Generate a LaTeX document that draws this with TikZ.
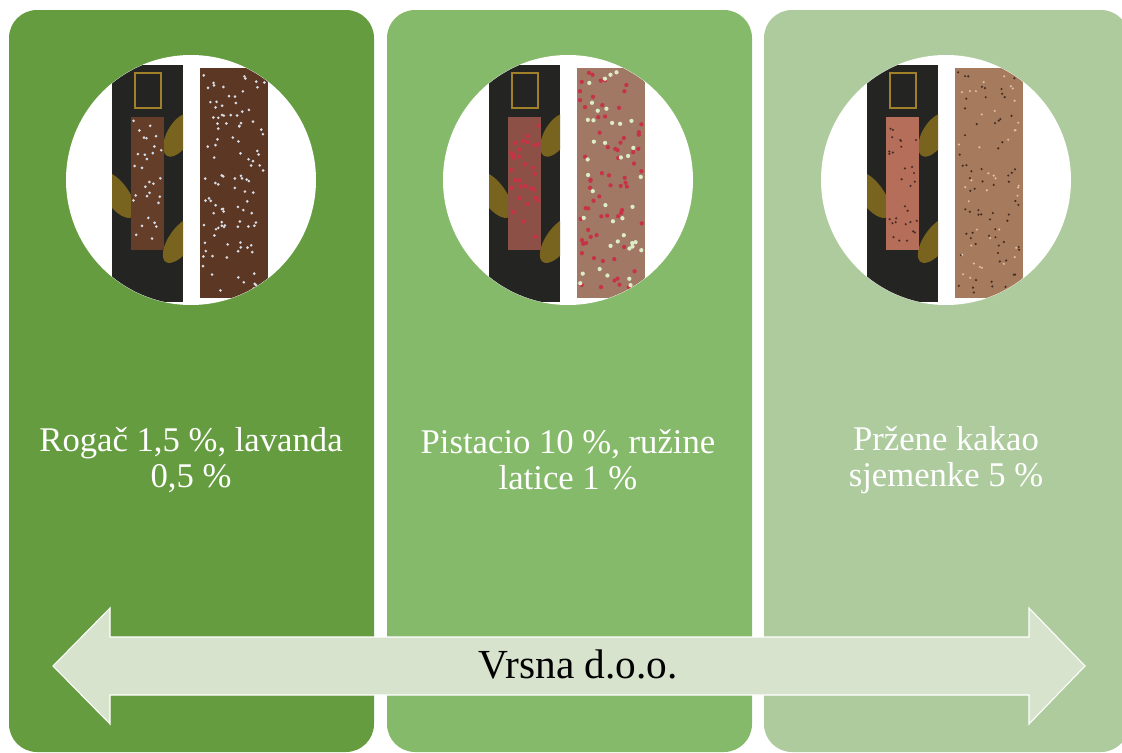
\documentclass[tikz,border=0pt]{standalone}
\usepackage{fontspec}
\setmainfont{Liberation Serif}
\definecolor{pA}{RGB}{101,156,64}
\definecolor{pB}{RGB}{134,186,107}
\definecolor{pC}{RGB}{174,203,158}
\definecolor{arrowc}{RGB}{216,227,206}
\definecolor{boxc}{RGB}{36,36,34}
\definecolor{goldc}{RGB}{160,128,40}
\definecolor{leafc}{RGB}{120,100,30}
\definecolor{chocA}{RGB}{92,56,36}
\definecolor{chocB}{RGB}{160,120,100}
\definecolor{chocC}{RGB}{166,122,92}
\definecolor{winA}{RGB}{100,62,40}
\definecolor{winB}{RGB}{140,80,70}
\definecolor{winC}{RGB}{180,110,90}
\definecolor{speckA}{RGB}{215,220,230}
\definecolor{speckB}{RGB}{200,50,70}
\definecolor{speckBg}{RGB}{220,235,200}
\definecolor{speckC}{RGB}{70,45,35}
\definecolor{speckCl}{RGB}{225,190,160}
\newcommand\chocphoto[7]{%
% #1 circle node, #2 bar colour, #3 window colour, #4 speck colour 1, #5 speck colour 2, #6 seed, #7 speck size
\begin{scope}[shift={(#1.center)}]
  \clip (0,0) circle (93.5pt);
  \fill[boxc] (-79,-115) rectangle (-8,122);
  \begin{scope}
    \clip (-79,-115) rectangle (-8,122);
    \fill[leafc,rotate around={35:(-74,15)}] (-74,15) ellipse (9pt and 20pt);
    \fill[leafc,rotate around={-30:(-12,-45)}] (-12,-45) ellipse (9pt and 18pt);
    \fill[leafc,rotate around={-35:(-10,60)}] (-10,60) ellipse (9pt and 20pt);
  \end{scope}
  \fill[#3] (-60,-63) rectangle (-27,70);
  \draw[goldc,line width=1pt] (-56,-107) rectangle (-30,-72);
  \fill[#2] (9,-112) rectangle (77,118);
  \pgfmathsetseed{#6}
  \foreach \i in {1,...,70}{
    \pgfmathsetmacro\sx{12+62*rnd}
    \pgfmathsetmacro\sy{-108+222*rnd}
    \fill[#4] (\sx,\sy) circle (#7);
  }
  \foreach \i in {1,...,40}{
    \pgfmathsetmacro\sx{12+62*rnd}
    \pgfmathsetmacro\sy{-108+222*rnd}
    \fill[#5] (\sx,\sy) circle (#7);
  }
  \foreach \i in {1,...,30}{
    \pgfmathsetmacro\sx{-58+29*rnd}
    \pgfmathsetmacro\sy{-60+128*rnd}
    \fill[#4] (\sx,\sy) circle (#7);
  }
\end{scope}}
\begin{document}
\begin{tikzpicture}[x=0.75pt,y=-0.75pt,
  panel/.style={rounded corners=21pt,minimum width=273.75pt,minimum height=556.5pt,inner sep=0pt,draw=none},
  photo/.style={circle,fill=white,minimum size=187.5pt,inner sep=0pt},
  label/.style={text=white,align=center,font=\fontsize{26}{27}\selectfont},
  bigarrow/.style={fill=arrowc,draw=white,line width=0.8pt}]
\useasboundingbox (0,0) rectangle (1122,753);
\fill[white] (0,0) rectangle (1122,753);
% panels
\node[panel,fill=pA] (p1) at (191.5,381) {};
\node[panel,fill=pB] (p2) at (569.5,381) {};
\node[panel,fill=pC] (p3) at (946.5,381) {};
% photos
\node[photo] (c1) at (191,180) {};
\node[photo] (c2) at (568,180) {};
\node[photo] (c3) at (946,180) {};
\chocphoto{c1}{chocA}{winA}{speckA}{speckA}{11}{1.1pt}
\chocphoto{c2}{chocB}{winB}{speckB}{speckBg}{22}{1.6pt}
\chocphoto{c3}{chocC}{winC}{speckC}{speckCl}{33}{0.9pt}
% texts
\node[label] (t1) at (191,460) {Rogač 1,5 \%, lavanda\\0,5 \%};
\node[label] (t2) at (568,460) {Pistacio 10 \%, ružine\\latice 1 \%};
\node[label] (t3) at (946,460) {Pržene kakao\\sjemenke 5 \%};
% double arrow
\path[bigarrow] (53,666) -- (110,608) -- (110,637) -- (1029,637) -- (1029,608)
  -- (1085,666) -- (1029,724) -- (1029,695) -- (110,695) -- (110,724) -- cycle;
\node[font=\fontsize{31}{34}\selectfont,text=black] (lab) at (578,664) {Vrsna d.o.o.};
\end{tikzpicture}
\end{document}
